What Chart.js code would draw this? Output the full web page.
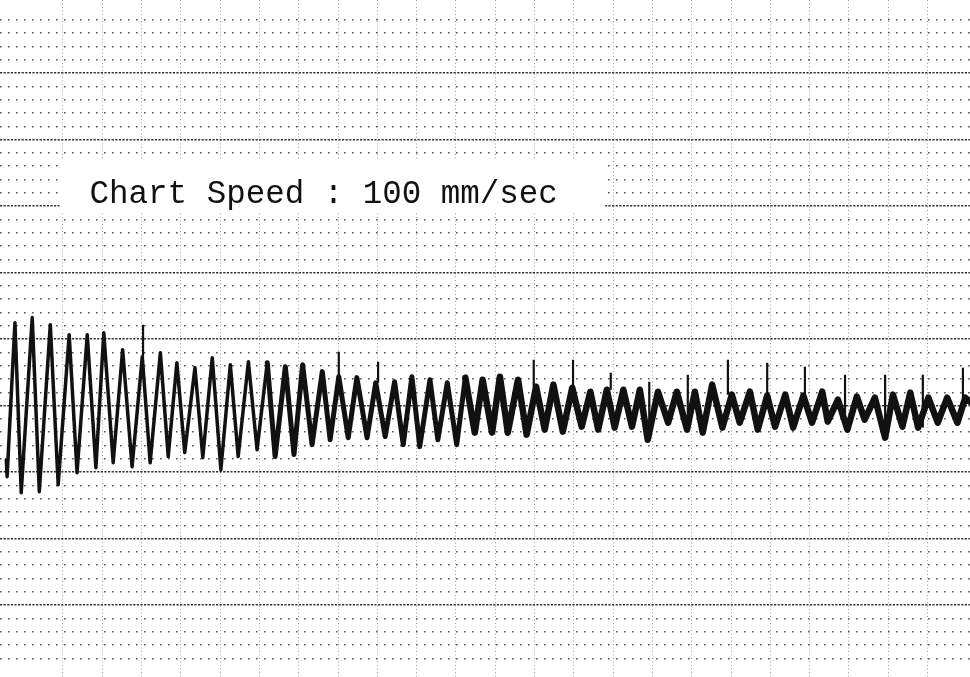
<!DOCTYPE html>
<html>
<head>
<meta charset="utf-8">
<script src="https://cdn.jsdelivr.net/npm/chart.js@4.4.1/dist/chart.umd.min.js"></script>
<style>
html, body { margin: 0; padding: 0; background: #fff; }
#wrap { width: 970px; height: 677px; }
</style>
</head>
<body>
<div id="wrap"><canvas id="strip" width="970" height="677"></canvas></div>
<script>
// time along the strip in ms (100 mm/sec), pen deflection in mm from the baseline
const peakTimes = [-11, 11, 34, 58, 81, 102, 126, 151, 174, 195,
    218, 240, 263, 286, 310, 333, 355, 380, 401, 424,
    448, 472, 494, 517, 539, 562, 584, 606, 629, 652,
    674, 698, 721, 742, 763, 784, 807, 831, 854, 876,
    901, 924, 946, 969, 992, 1016, 1036, 1060, 1083, 1106,
    1128, 1151, 1175, 1198];
const peakValues = [6.24, 6.62, 6.09, 5.34, 5.34, 5.49, 4.21, 3.68, 3.98, 3.23,
    2.86, 3.61, 3.08, 3.31, 3.23, 2.93, 3.08, 2.56, 2.18, 2.11,
    1.73, 1.80, 2.18, 1.95, 1.73, 2.11, 1.95, 2.18, 1.95, 1.43,
    1.58, 1.35, 1.05, 1.20, 1.20, 1.20, 1.05, 1.05, 1.05, 1.58,
    0.83, 1.05, 0.75, 0.83, 0.75, 1.05, 0.45, 0.68, 0.60, 0.83,
    0.98, 0.60, 0.60, 0.60];
const troughTimes = [-3, 20, 44, 68, 92, 114, 138, 161, 184, 205,
    228, 251, 273, 297, 320, 344, 367, 390, 413, 437,
    460, 483, 504, 527, 551, 574, 596, 616, 640, 663,
    686, 710, 731, 752, 774, 794, 820, 844, 864, 889,
    911, 934, 956, 979, 1003, 1023, 1048, 1070, 1096, 1118,
    1138, 1163, 1188];
const troughValues = [-6.54, -6.47, -5.94, -5.04, -4.66, -4.29, -4.59, -4.29, -3.83, -3.53,
    -3.91, -4.81, -3.83, -3.31, -3.83, -3.68, -2.93, -2.56, -2.41, -2.41,
    -2.33, -2.93, -3.08, -2.56, -2.93, -2.03, -2.03, -2.03, -2.18, -1.80,
    -1.95, -1.58, -1.80, -1.65, -1.58, -2.56, -1.28, -1.80, -2.03, -1.65,
    -1.28, -1.80, -1.58, -1.65, -1.28, -1.20, -1.80, -1.05, -2.41, -1.58,
    -1.65, -1.28, -1.28];
const startTimes = [-22, -21];
const startValues = [-4.06, -5.34];
const endTimes = [1204];
const endValues = [0.3];

// timing marks riding on the trace
const markTimes = [152, 401, 451, 649, 699, 747, 796, 845, 896, 946, 994, 1045, 1096, 1144, 1195];
const markBases = [3.68, 2.18, 1.73, 1.43, 1.35, 1.20, -2.56, -1.80, 0.83, 0.75, 0.75, -1.80, -2.41, -1.65, 0.60];
const markTops = [6.09, 4.06, 3.31, 3.46, 3.46, 2.48, 1.80, 2.33, 3.46, 3.23, 2.93, 2.33, 2.33, 2.33, 2.86];

const speedLabel = 'Chart Speed : 100 mm/sec';

// build the pen trace
const trace = [];
startTimes.forEach((t, i) => trace.push({ x: t, y: startValues[i] }));
peakTimes.forEach((t, i) => trace.push({ x: t, y: peakValues[i] }));
troughTimes.forEach((t, i) => trace.push({ x: t, y: troughValues[i] }));
endTimes.forEach((t, i) => trace.push({ x: t, y: endValues[i] }));
trace.sort((a, b) => a.x - b.x);

const marks = [];
markTimes.forEach((t, i) => {
    marks.push({ x: t, y: markBases[i] }, { x: t, y: markTops[i] }, { x: t, y: null });
});

function isMultiple(v, step) {
    const q = v / step;
    return Math.abs(q - Math.round(q)) < 1e-6;
}

// white patch with the speed note, as on the paper
const labelPlugin = {
    id: 'speedLabel',
    beforeDatasetsDraw(chart) {
        const { ctx, scales: { x, y } } = chart;
        ctx.save();
        ctx.fillStyle = '#fff';
        const l = x.getPixelForValue(46), r = x.getPixelForValue(740);
        const t = y.getPixelForValue(18.5), b = y.getPixelForValue(14.55);
        ctx.fillRect(l, t, r - l, b - t);
        ctx.fillStyle = '#111';
        ctx.font = '32.5px "Liberation Mono", "DejaVu Sans Mono", monospace';
        ctx.textBaseline = 'alphabetic';
        ctx.fillText(speedLabel, x.getPixelForValue(84), y.getPixelForValue(15.26));
        ctx.restore();
    }
};

const ctx = document.getElementById('strip').getContext('2d');
const stripChart = new Chart(ctx, {
    type: 'scatter',
    data: {
        datasets: [{
            data: trace,
            showLine: true,
            borderColor: '#111',
            borderWidth: 3.5,
            borderJoinStyle: 'round',
            borderCapStyle: 'round',
            pointRadius: 0,
            tension: 0,
            segment: {
                borderWidth: c => c.p0.parsed.x < 300 ? 3.5 : (c.p0.parsed.x < 560 ? 5 : 6.5)
            }
        }, {
            data: marks,
            showLine: true,
            borderColor: '#111',
            borderWidth: 2.2,
            pointRadius: 0,
            spanGaps: false
        }]
    },
    options: {
        responsive: false,
        animation: false,
        events: [],
        layout: { padding: 0 },
        plugins: {
            legend: { display: false },
            tooltip: { enabled: false }
        },
        scales: {
            x: {
                type: 'linear',
                min: -30,
                max: 1204,
                ticks: { display: false, stepSize: 50 },
                grid: {
                    drawTicks: false,
                    lineWidth: 1,
                    color: c => (c.tick && isMultiple(c.tick.value, 50)) ? '#a0a0a0' : 'rgba(0,0,0,0)'
                },
                border: { display: false, dash: [1, 2.5] }
            },
            y: {
                min: -20.4,
                max: 30.5,
                ticks: { display: false, stepSize: 1 },
                grid: {
                    drawTicks: false,
                    lineWidth: 1.6,
                    color: c => (c.tick && isMultiple(c.tick.value, 1) && !isMultiple(c.tick.value, 5)) ? '#555' : 'rgba(0,0,0,0)'
                },
                border: { display: false, dash: [1.6, 6.4] }
            },
            yMajor: {
                position: 'left',
                min: -20.4,
                max: 30.5,
                ticks: { display: false, stepSize: 5 },
                grid: {
                    drawTicks: false,
                    lineWidth: 1.5,
                    color: c => (c.tick && isMultiple(c.tick.value, 5)) ? '#333' : 'rgba(0,0,0,0)'
                },
                border: { display: false, dash: [2.2, 1.4] }
            }
        }
    },
    plugins: [labelPlugin]
});
</script>
</body>
</html>
